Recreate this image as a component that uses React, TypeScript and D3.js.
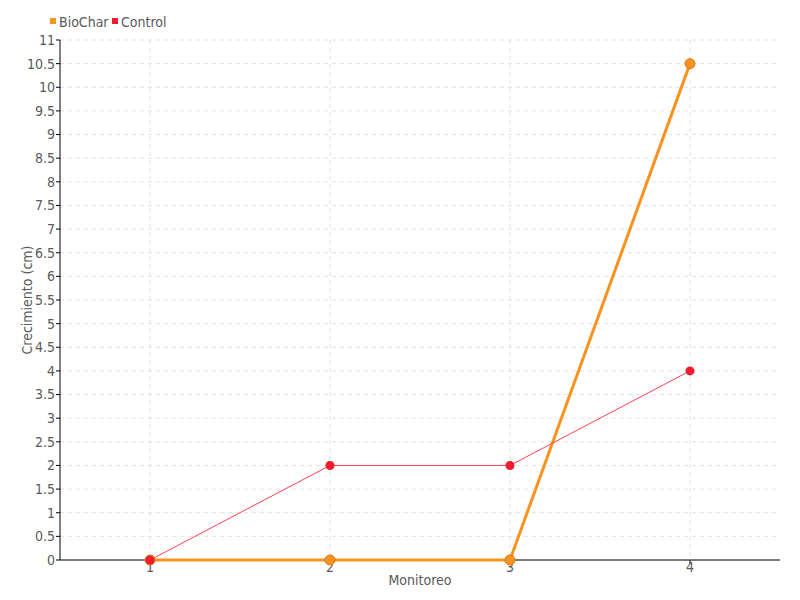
import React from "react";
import * as d3 from "d3";

const categories = ["1", "2", "3", "4"];
const biochar = [0, 0, 0, 10.5];
const control = [0, 2, 2, 4];
const yTicks = d3.range(0, 11.01, 0.5);
const seriesNames = ["BioChar", "Control"];

const W = 800, H = 600;
const M = { left: 60, right: 20, top: 40, bottom: 40 };
const FONT = "'Liberation Sans Narrow', 'DejaVu Sans Condensed', 'Roboto', sans-serif";
const ORANGE = "#f7931e";
const RED = "#ee1c2e";
const TXT = "#5a5a5a";

export default function App() {
  const x = d3.scaleBand().domain(categories).range([M.left, W - M.right]);
  const y = d3.scaleLinear().domain([0, 11]).range([H - M.bottom, M.top]);
  const cx = (c: string) => (x(c) as number) + x.bandwidth() / 2;
  const line = d3.line<number>().x((_, i) => cx(categories[i])).y((d) => y(d));
  const fmt = (v: number) => (Number.isInteger(v) ? String(v) : v.toFixed(1));

  return (
    <svg width={W} height={H} style={{ position: "absolute", left: 0, top: 0, fontFamily: FONT }}>
      <rect width={W} height={H} fill="#fff" />
      {yTicks.map((t) => (
        <line key={"gy" + t} x1={M.left} x2={W - M.right} y1={y(t)} y2={y(t)} stroke="#e2e2e2" strokeDasharray="4,4" />
      ))}
      {categories.map((c) => (
        <line key={"gx" + c} x1={cx(c)} x2={cx(c)} y1={M.top} y2={H - M.bottom} stroke="#e2e2e2" strokeDasharray="4,4" />
      ))}
      <line x1={M.left} x2={M.left} y1={M.top} y2={H - M.bottom} stroke="#000" />
      <line x1={M.left} x2={W - M.right} y1={H - M.bottom} y2={H - M.bottom} stroke="#000" />
      {yTicks.map((t) => (
        <g key={"ty" + t}>
          <line x1={M.left - 4} x2={M.left} y1={y(t)} y2={y(t)} stroke="#000" />
          <text x={M.left - 5} y={y(t)} dy="0.35em" textAnchor="end" fontSize={14} fill={TXT}>
            {fmt(t)}
          </text>
        </g>
      ))}
      {categories.map((c) => (
        <g key={"tx" + c}>
          <line x1={cx(c)} x2={cx(c)} y1={H - M.bottom} y2={H - M.bottom + 4} stroke="#000" />
          <text x={cx(c)} y={H - M.bottom + 12} textAnchor="middle" fontSize={14} fill={TXT}>
            {c}
          </text>
        </g>
      ))}
      <text x={(M.left + W - M.right) / 2} y={585} textAnchor="middle" fontSize={14} fill={TXT}>
        Monitoreo
      </text>
      <text transform={`translate(32,${(M.top + H - M.bottom) / 2}) rotate(-90)`} textAnchor="middle" fontSize={14} fill={TXT}>
        Crecimiento (cm)
      </text>
      <path d={line(biochar) as string} fill="none" stroke={ORANGE} strokeWidth={3} />
      {biochar.map((v, i) => (
        <circle key={"b" + i} cx={cx(categories[i])} cy={y(v)} r={5} fill={ORANGE} stroke="#d9791a" strokeWidth={1} />
      ))}
      <path d={line(control) as string} fill="none" stroke="#ff4255" strokeWidth={1} />
      {control.map((v, i) => (
        <circle key={"c" + i} cx={cx(categories[i])} cy={y(v)} r={4.5} fill={RED} />
      ))}
      <rect x={50} y={18} width={6} height={6} fill={ORANGE} />
      <text x={59} y={22} dy="0.35em" fontSize={14} fill={TXT}>{seriesNames[0]}</text>
      <rect x={112} y={18} width={6} height={6} fill={RED} />
      <text x={121} y={22} dy="0.35em" fontSize={14} fill={TXT}>{seriesNames[1]}</text>
    </svg>
  );
}
